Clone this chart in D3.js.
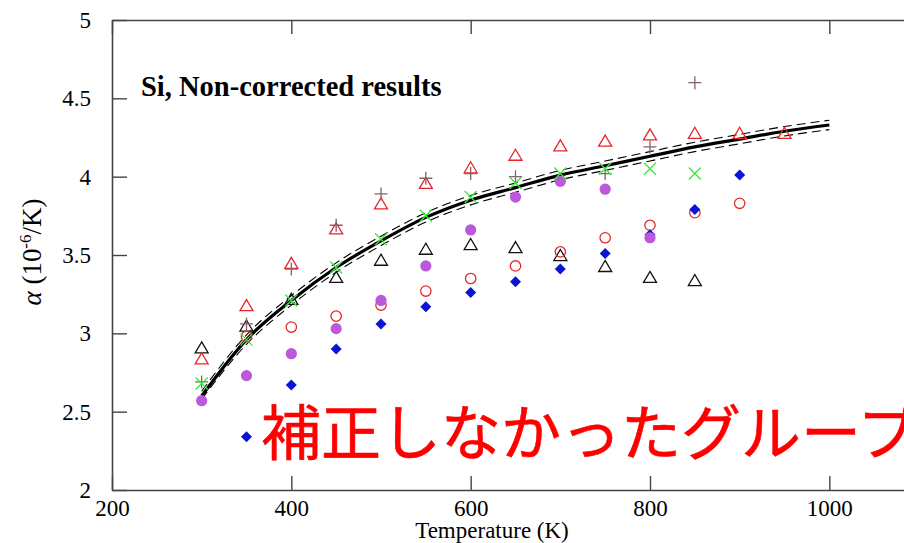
<!DOCTYPE html>
<html>
<head>
<meta charset="utf-8">
<script src="https://cdn.jsdelivr.net/npm/d3@7"></script>
<style>
  html, body { margin: 0; padding: 0; background: #fff; }
  svg { display: block; }
  text { font-family: "Liberation Serif", "Times New Roman", serif; }
</style>
</head>
<body>
<svg id="chart" width="904" height="543"></svg>
<script>
// Temperatures (K) at which the measurement groups were sampled
const temps = [300, 350, 400, 450, 500, 550, 600, 650, 700, 750, 800, 850, 900, 950];

// Measured thermal expansion coefficient, 10^-6 /K (null = not measured)
const redTriangles   = [2.84, 3.18, 3.45, 3.67, 3.83, 3.96, 4.06, 4.14, 4.20, 4.23, 4.27, 4.28, 4.28, 4.28];
const brownPlus      = [2.69, 3.06, 3.41, 3.69, 3.89, 3.99, 4.02, 4.00, null, 4.02, 4.19, 4.60, null, null];
const greenCross     = [2.68, 2.96, 3.21, 3.42, 3.60, 3.75, 3.87, 3.96, 4.02, 4.05, 4.05, 4.02, null, null];
const purpleDots     = [2.57, 2.73, 2.87, 3.03, 3.21, 3.43, 3.66, 3.87, 3.97, 3.92, 3.61, null, null, null];
const blackTriangles = [2.91, 3.05, 3.22, 3.36, 3.47, 3.54, 3.57, 3.55, 3.50, 3.43, 3.36, 3.34, null, null];
const redCircles     = [null, 2.98, 3.04, 3.11, 3.18, 3.27, 3.35, 3.43, 3.52, 3.61, 3.69, 3.77, 3.83, null];
const blueDiamonds   = [null, 2.34, 2.67, 2.90, 3.06, 3.17, 3.26, 3.33, 3.41, 3.51, 3.63, 3.79, 4.01, null];

// Recommended reference curve with its upper / lower bounds
const fitTemps = [300, 350, 400, 450, 500, 550, 600, 650, 700, 750, 800, 850, 900, 950, 1000];
const fitMid   = [2.60, 2.96, 3.21, 3.42, 3.59, 3.74, 3.85, 3.93, 4.01, 4.07, 4.13, 4.19, 4.24, 4.29, 4.33];
const fitUpper = [2.63, 2.99, 3.24, 3.45, 3.62, 3.77, 3.88, 3.96, 4.04, 4.10, 4.16, 4.22, 4.27, 4.32, 4.36];
const fitLower = [2.58, 2.93, 3.18, 3.39, 3.56, 3.71, 3.82, 3.90, 3.98, 4.04, 4.10, 4.16, 4.21, 4.26, 4.30];

// Axis ticks and labels
const xTicks = [200, 400, 600, 800, 1000];
const yTicks = [2, 2.5, 3, 3.5, 4, 4.5, 5];
const titleText = "Si, Non-corrected results";
const xLabel = "Temperature (K)";
const noteText = "補正しなかったグループ";

const svg = d3.select("#chart");
const plotLeft = 112, plotRight = 919, plotTop = 20, plotBottom = 490;

const x = d3.scaleLinear().domain([200, 1100]).range([plotLeft, plotRight]);
const y = d3.scaleLinear().domain([2, 5]).range([plotBottom, plotTop]);

const axisColor = "#444";

// Frame with inward ticks on all four sides
function styleAxis(g) {
  g.selectAll("path.domain").attr("stroke", axisColor).attr("stroke-width", 1.6);
  g.selectAll(".tick line").attr("stroke", axisColor).attr("stroke-width", 1.4);
}

const gBottom = svg.append("g").attr("transform", `translate(0,${plotBottom})`)
  .call(d3.axisBottom(x).tickValues(xTicks).tickSizeInner(-14).tickSizeOuter(0).tickFormat(d3.format("d")));
styleAxis(gBottom);
gBottom.selectAll(".tick text")
  .attr("y", 26).attr("dy", 0)
  .style("font-size", "23px").style("font-family", "Liberation Serif, serif").style("fill", "#000");

const gTop = svg.append("g").attr("transform", `translate(0,${plotTop})`)
  .call(d3.axisTop(x).tickValues(xTicks).tickSizeInner(-14).tickSizeOuter(0).tickFormat(""));
styleAxis(gTop);

const gLeft = svg.append("g").attr("transform", `translate(${plotLeft},0)`)
  .call(d3.axisLeft(y).tickValues(yTicks).tickSizeInner(-15).tickSizeOuter(0).tickFormat(d3.format("")));
styleAxis(gLeft);
gLeft.selectAll(".tick text")
  .attr("x", -21).attr("dy", "0.33em")
  .style("font-size", "23px").style("font-family", "Liberation Serif, serif").style("fill", "#000");

const gRight = svg.append("g").attr("transform", `translate(${plotRight},0)`)
  .call(d3.axisRight(y).tickValues(yTicks).tickSizeInner(-15).tickSizeOuter(0).tickFormat(""));
styleAxis(gRight);

// Axis titles
svg.append("text")
  .attr("x", 492).attr("y", 538)
  .attr("text-anchor", "middle")
  .style("font-size", "23px").style("fill", "#000")
  .text(xLabel);

const yl = svg.append("text")
  .attr("transform", "translate(41,252) rotate(-90)")
  .attr("text-anchor", "middle")
  .style("font-size", "27px").style("fill", "#000");
yl.append("tspan").style("font-style", "italic").text("α");
yl.append("tspan").text(" (10");
yl.append("tspan").attr("dy", -10).style("font-size", "17px").text("-6");
yl.append("tspan").attr("dy", 10).text("/K)");

// Title in the upper-left of the plot
svg.append("text")
  .attr("x", 141).attr("y", 96)
  .style("font-size", "28.5px").style("font-weight", "bold").style("fill", "#000")
  .text(titleText);

// Reference curve and bounds
const fitPts = arr => fitTemps.map((t, i) => [t, arr[i]]);
const line = d3.line().x(d => x(d[0])).y(d => y(d[1])).curve(d3.curveMonotoneX);

const plot = svg.append("g");
plot.append("path").attr("d", line(fitPts(fitUpper)))
  .attr("fill", "none").attr("stroke", "#000").attr("stroke-width", 1.1).attr("stroke-dasharray", "9,5");
plot.append("path").attr("d", line(fitPts(fitLower)))
  .attr("fill", "none").attr("stroke", "#000").attr("stroke-width", 1.1).attr("stroke-dasharray", "9,5");
plot.append("path").attr("d", line(fitPts(fitMid)))
  .attr("fill", "none").attr("stroke", "#000").attr("stroke-width", 3.2);

// Marker helpers
const pts = arr => temps.map((t, i) => ({ t, v: arr[i] })).filter(d => d.v != null);

function triangle(s) {
  const h = s * 0.85;
  return `M0,${-h / 2}L${s / 2},${h / 2}L${-s / 2},${h / 2}Z`;
}

function drawTriangles(arr, color) {
  plot.append("g").selectAll("path").data(pts(arr)).join("path")
    .attr("transform", d => `translate(${x(d.t)},${y(d.v)})`)
    .attr("d", triangle(13))
    .attr("fill", "none").attr("stroke", color).attr("stroke-width", 1.3);
}

drawTriangles(blackTriangles, "#111");

plot.append("g").selectAll("circle").data(pts(redCircles)).join("circle")
  .attr("cx", d => x(d.t)).attr("cy", d => y(d.v)).attr("r", 5.2)
  .attr("fill", "none").attr("stroke", "#e8262a").attr("stroke-width", 1.3);

plot.append("g").selectAll("path").data(pts(blueDiamonds)).join("path")
  .attr("transform", d => `translate(${x(d.t)},${y(d.v)})`)
  .attr("d", "M0,-5.5L5.5,0L0,5.5L-5.5,0Z")
  .attr("fill", "#0a14d4");

plot.append("g").selectAll("circle").data(pts(purpleDots)).join("circle")
  .attr("cx", d => x(d.t)).attr("cy", d => y(d.v)).attr("r", 5.6)
  .attr("fill", "#bc58dc");

drawTriangles(redTriangles, "#e8262a");

plot.append("g").selectAll("path").data(pts(brownPlus)).join("path")
  .attr("transform", d => `translate(${x(d.t)},${y(d.v)})`)
  .attr("d", "M-6.5,0H6.5M0,-6.5V6.5")
  .attr("stroke", "#856464").attr("stroke-width", 1.3);

plot.append("g").selectAll("path").data(pts(greenCross)).join("path")
  .attr("transform", d => `translate(${x(d.t)},${y(d.v)})`)
  .attr("d", "M-6,-6L6,6M-6,6L6,-6")
  .attr("stroke", "#3be83b").attr("stroke-width", 1.3);

// Annotation
svg.append("text")
  .attr("x", 261).attr("y", 455)
  .style("font-family", "'Noto Sans CJK JP', sans-serif")
  .style("font-size", "60px")
  .style("fill", "#ff0000")
  .style("stroke", "#ff0000")
  .style("stroke-width", "0.6px")
  .text(noteText);
</script>
</body>
</html>
